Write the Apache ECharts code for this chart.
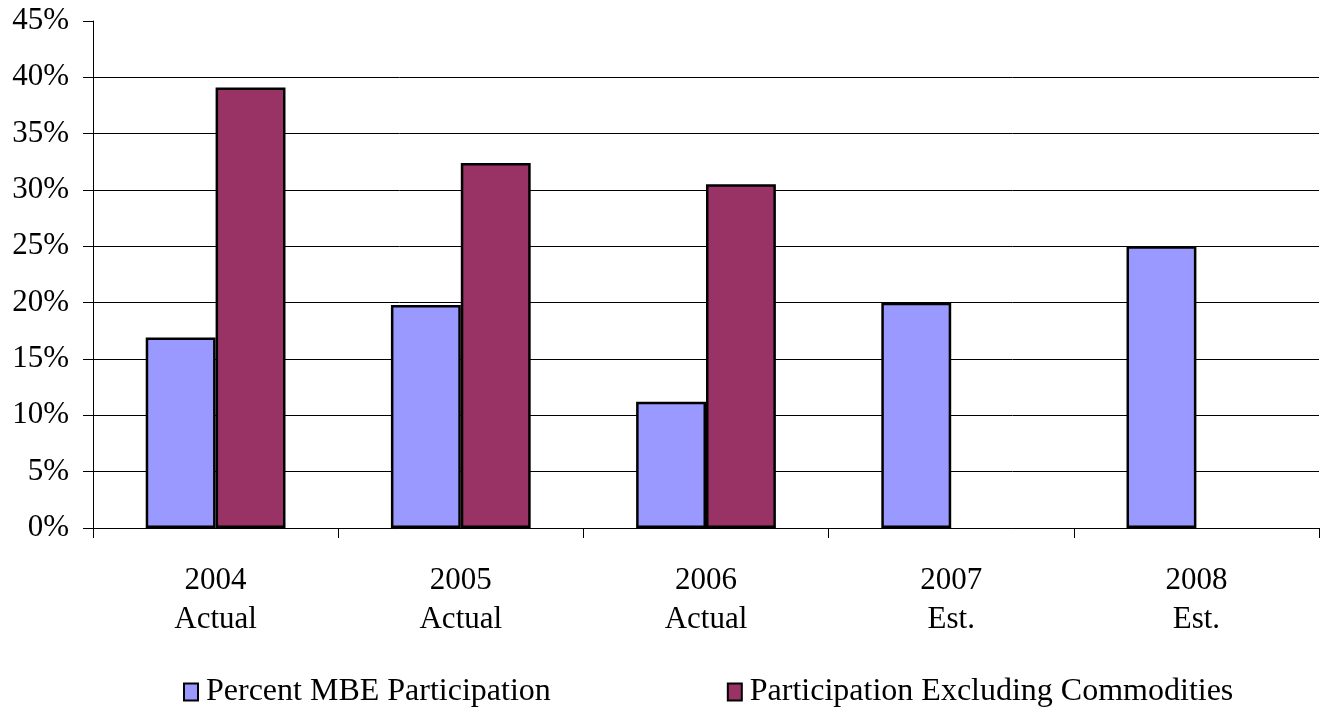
<!DOCTYPE html>
<html>
<head>
<meta charset="utf-8">
<style>
  html, body { margin: 0; padding: 0; background: #fff; }
  #chart { width: 1325px; height: 707px; }
</style>
<script src="https://cdn.jsdelivr.net/npm/echarts@6/dist/echarts.min.js"></script>
</head>
<body>
<div id="chart"></div>
<script>
// Categories: year and whether the figure is actual or estimated
const categories = ['2004\nActual', '2005\nActual', '2006\nActual', '2007\nEst.', '2008\nEst.'];

// Percent values per year
const mbeParticipation = [16.9, 19.8, 11.2, 20, 25];
const exclCommodities = [39.1, 32.4, 30.5, null, null];

const seriesNames = ['Percent MBE Participation', 'Participation Excluding Commodities'];
const seriesColors = ['#9999FF', '#993366'];

const FONT = '"Liberation Serif", "Times New Roman", serif';

const chart = echarts.init(document.getElementById('chart'), null, { renderer: 'canvas' });

const barStyle = (color) => ({
  color: color,
  borderColor: '#000',
  borderWidth: 2.5
});

chart.setOption({
  animation: false,
  backgroundColor: '#fff',
  textStyle: { fontFamily: FONT, color: '#000' },
  grid: { left: 93, right: 6, top: 21, bottom: 179, containLabel: false },
  legend: {
    left: 183,
    top: 674,
    padding: 0,
    itemWidth: 14,
    itemHeight: 17,
    itemGap: 176,
    icon: 'rect',
    textStyle: { fontFamily: FONT, fontSize: 32, color: '#000', padding: [0, 0, 0, 3], lineHeight: 36 },
    data: seriesNames.map((n, i) => ({
      name: n,
      itemStyle: { color: seriesColors[i], borderColor: '#000', borderWidth: 2 }
    }))
  },
  xAxis: {
    type: 'category',
    data: categories,
    boundaryGap: true,
    axisLine: { show: true, lineStyle: { color: '#000', width: 1 } },
    axisTick: { show: true, length: 10, interval: 0, lineStyle: { color: '#000' } },
    axisLabel: {
      interval: 0,
      margin: 33,
      fontFamily: FONT,
      fontSize: 31,
      lineHeight: 39,
      color: '#000'
    },
    splitLine: { show: false }
  },
  yAxis: {
    type: 'value',
    min: 0,
    max: 45,
    interval: 5,
    axisLine: { show: true, lineStyle: { color: '#000', width: 1 } },
    axisTick: { show: true, length: 10, lineStyle: { color: '#000' } },
    axisLabel: {
      formatter: '{value}%',
      margin: 24,
      fontFamily: FONT,
      fontSize: 31,
      color: '#000'
    },
    splitLine: {
      show: true,
      showMaxLine: false,
      lineStyle: { color: '#000', width: 1 }
    }
  },
  series: [
    {
      name: seriesNames[0],
      type: 'bar',
      data: mbeParticipation,
      barGap: '0%',
      barCategoryGap: '43%',
      itemStyle: barStyle(seriesColors[0])
    },
    {
      name: seriesNames[1],
      type: 'bar',
      data: exclCommodities,
      barGap: '0%',
      barCategoryGap: '43%',
      itemStyle: barStyle(seriesColors[1])
    }
  ]
});
</script>
</body>
</html>
